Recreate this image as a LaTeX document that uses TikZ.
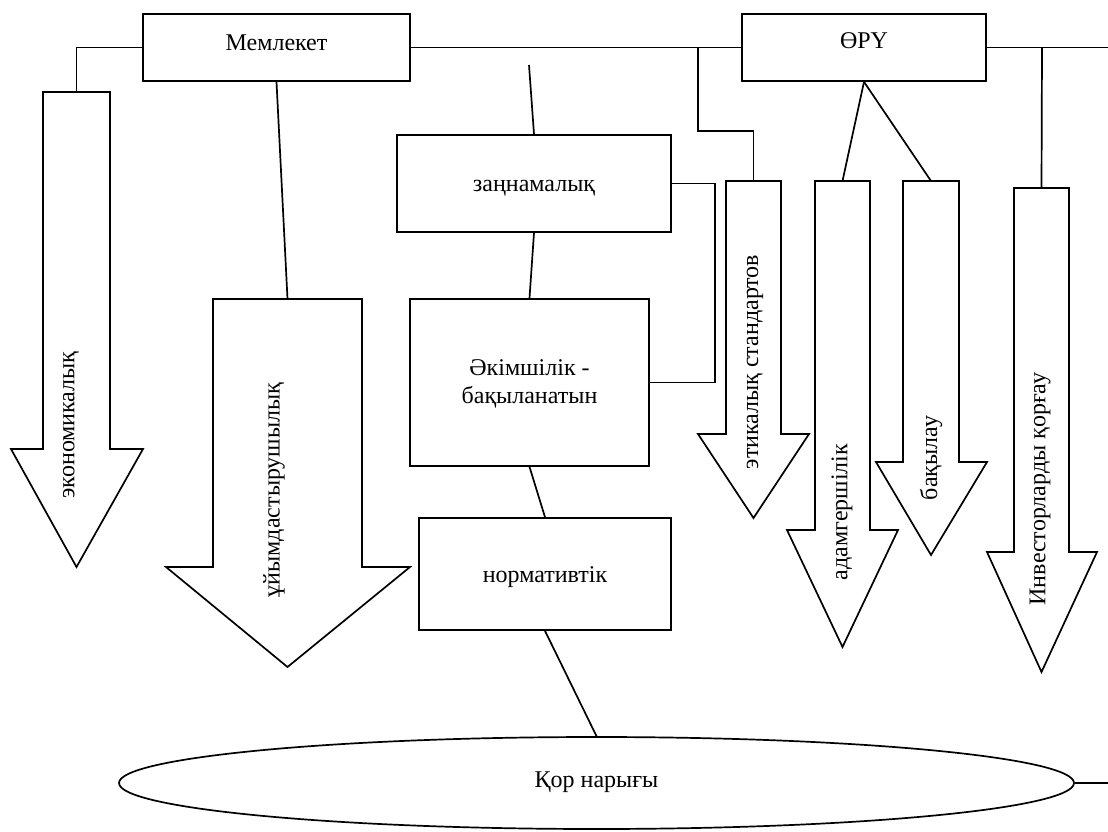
\documentclass[tikz,border=0pt]{standalone}
\usepackage{fontspec}
\setmainfont{Liberation Serif}
\usetikzlibrary{shapes.geometric,calc}
\newcommand{\dnarrow}[8]{% name, xl, xr, top, base, wl, wr, tip y
  \draw[arrowshape] (#2,#4) -- (#3,#4) -- (#3,#5) -- (#7,#5) -- ({(#2+#3)/2},#8) -- (#6,#5) -- (#2,#5) -- cycle;
  \coordinate (#1) at ({(#2+#3)/2},#4);}
\begin{document}
\begin{tikzpicture}[x=1pt,y=-1pt,
  line width=1.7pt, line join=miter,
  every node/.style={font=\fontsize{24}{28}\selectfont, inner sep=0pt},
  box/.style={draw, rectangle, line width=1.7pt},
  arrowshape/.style={draw, line width=1.7pt, fill=white},
  lbl/.style={align=center},
  vlbl/.style={rotate=90},
  conn/.style={line width=1.7pt}]
\useasboundingbox (0,0) rectangle (1108,832);

% boxes
\node[box, minimum width=267pt, minimum height=67pt] (mem) at (276.5,47.5) {};
\node[lbl] (memt) at (276.5,43) {Мемлекет};
\node[box, minimum width=244pt, minimum height=67pt] (oru) at (864,47.5) {};
\node[lbl] (orut) at (864,41) {ӨРҮ};
\node[box, minimum width=274pt, minimum height=97pt] (zan) at (534,183.5) {};
\node[lbl] (zant) at (534,188) {заңнамалық};
\node[box, minimum width=239pt, minimum height=167pt] (akim) at (529.5,382.5) {};
\node[lbl] (akimt) at (529.5,384) {Әкімшілік -\\бақыланатын};
\node[box, minimum width=252pt, minimum height=112pt] (norm) at (545,574) {};
\node[lbl] (normt) at (545,577) {нормативтік};
\node[draw, ellipse, minimum width=955pt, minimum height=92pt, line width=1.7pt] (kor) at (596.5,783) {};
\node[lbl] (kort) at (596.5,782) {Қор нарығы};

% big arrows
\dnarrow{econ}{43}{110}{92}{449}{11}{143}{567}
\dnarrow{ukym}{213}{362}{299}{567}{166}{410}{667}
\dnarrow{etik}{726}{781}{181}{434}{698}{809}{518}
\dnarrow{adam}{815}{870}{181}{530}{787}{898}{647}
\dnarrow{bak}{903}{959}{181}{462}{876}{987}{555}
\dnarrow{inv}{1014}{1069}{188}{552}{987}{1097}{672}

% arrow labels
\node[vlbl] (econt) at (71,425) {экономикалық};
\node[vlbl] (ukymt) at (274,490) {ұйымдастырушылық};
\node[vlbl] (etikt) at (755,362) {этикалық стандартов};
\node[vlbl] (adamt) at (842,512) {адамгершілік};
\node[vlbl] (bakt) at (931,458) {бақылау};
\node[vlbl] (invt) at (1040,489) {Инвесторларды қорғау};

% helper coordinates
\coordinate (b1) at (698,47.5);
\coordinate (k1) at (698,131);
\coordinate (b2) at (1042,47.5);
\coordinate (rend) at (1108,47.5);
\coordinate (t1) at (529,65);
\coordinate (k2) at (715,300);
\coordinate (rend2) at (1108,783);

% connectors
\draw[conn] (mem.west) -| (econ);
\draw[conn] (mem.east) -- (oru.west);
\draw[conn] (oru.east) -- (rend);
\draw[conn] (mem.south) -- (ukym);
\draw[conn] (b1) -- (k1) -| (etik);
\draw[conn] (oru.south) -- (adam);
\draw[conn] (oru.south) -- (bak);
\draw[conn] (b2) -- (inv);
\draw[conn] (t1) -- (zan.north);
\draw[conn] (zan.south) -- (akim.north);
\draw[conn] (zan.east) -| (k2) |- (akim.east);
\draw[conn] (akim.south) -- (norm.north);
\draw[conn] (norm.south) -- (kor.north);
\draw[conn] (kor.east) -- (rend2);
\end{tikzpicture}
\end{document}
